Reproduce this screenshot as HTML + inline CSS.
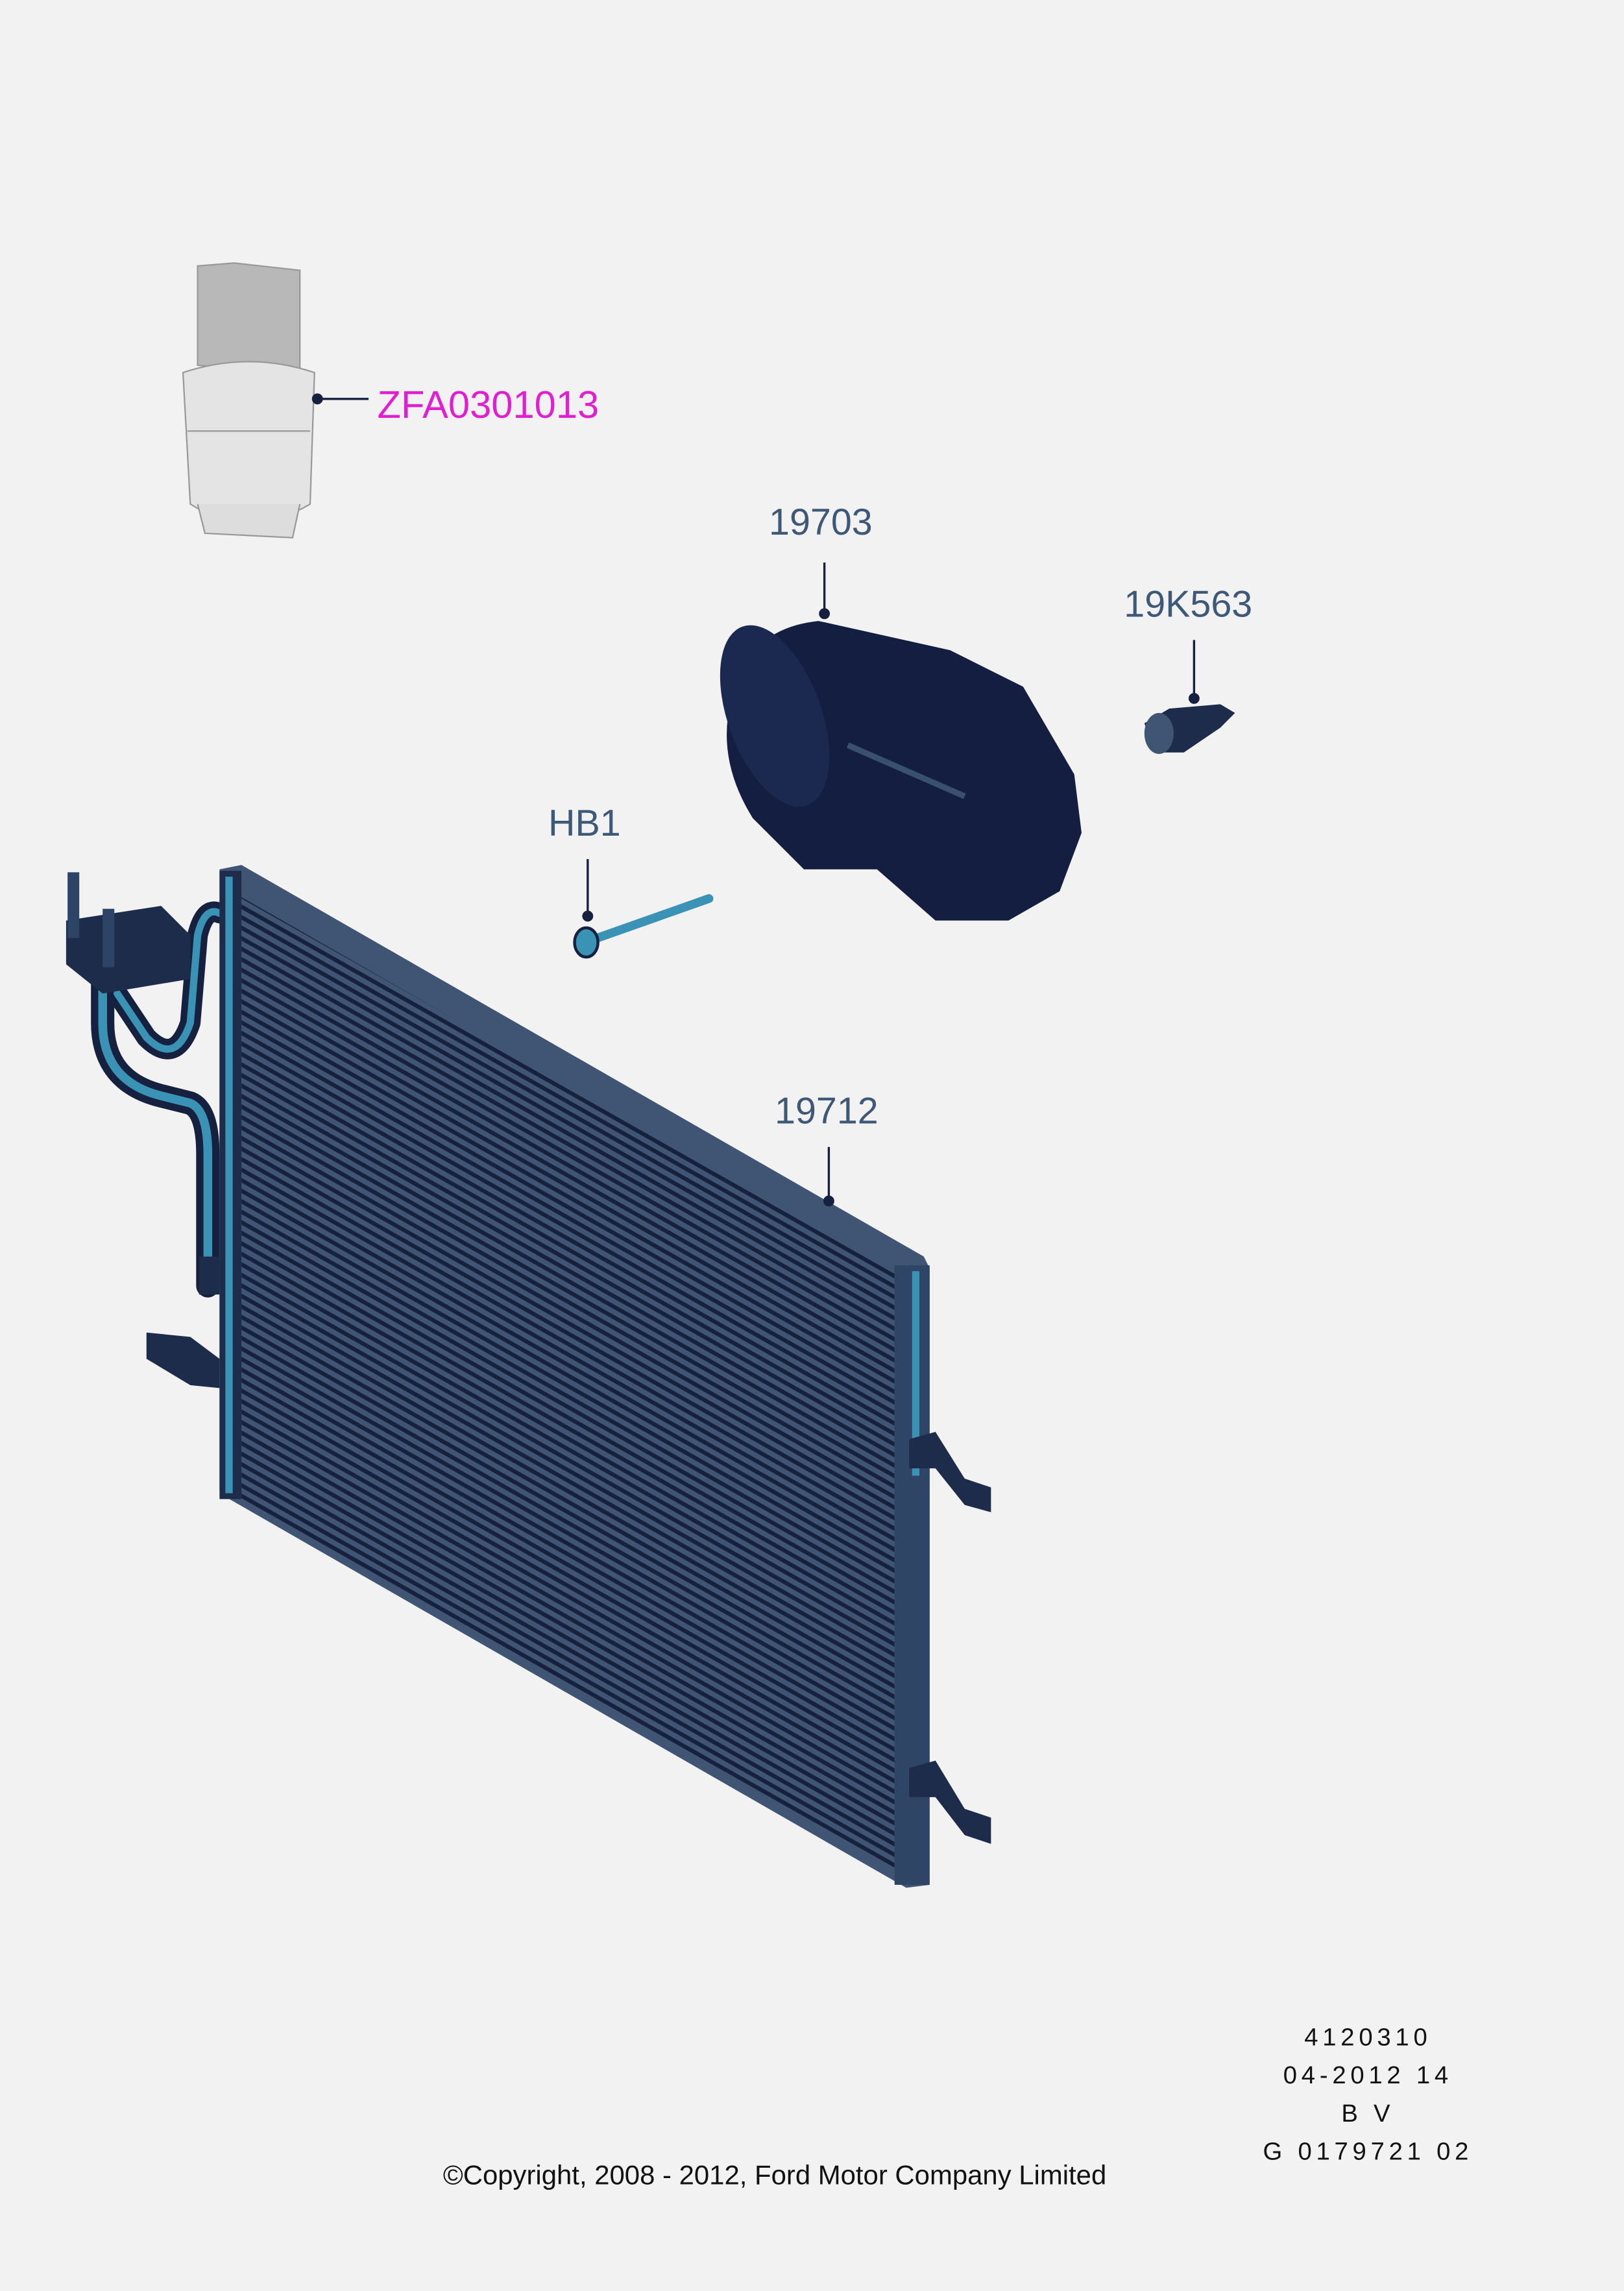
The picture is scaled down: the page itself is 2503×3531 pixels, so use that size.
<!DOCTYPE html>
<html><head><meta charset="utf-8"><style>
html,body{margin:0;padding:0;background:#f2f2f2}
svg{display:block}
</style></head><body>
<svg width="2503" height="3531" viewBox="0 0 1111 1568" xmlns="http://www.w3.org/2000/svg">
<rect width="1111" height="1568" fill="#f2f2f2"/>
<defs>
<pattern id="fins" patternUnits="userSpaceOnUse" width="40" height="7.2" patternTransform="skewY(29.5)">
<rect width="40" height="7.2" fill="#3f5573"/>
<rect y="0" width="40" height="3.2" fill="#16213f"/>
</pattern>
<clipPath id="core"><polygon points="165,612 612,868 612,1282 165,1026"/></clipPath>
</defs>
<g fill="none" stroke-linecap="round" stroke-linejoin="round">
<path d="M70,650 L70,700 Q70,740 110,750 L130,755 Q142,760 142,790 L142,880" stroke="#16213f" stroke-width="16"/>
<path d="M70,650 L70,700 Q70,740 110,750 L130,755 Q142,760 142,790 L142,880" stroke="#3a93b5" stroke-width="6"/>
<path d="M80,680 L100,710 Q120,730 130,700 L135,640 Q140,620 150,625" stroke="#16213f" stroke-width="14"/>
<path d="M80,680 L100,710 Q120,730 130,700 L135,640 Q140,620 150,625" stroke="#3a93b5" stroke-width="5"/>
</g>
<polygon points="45,630 110,620 130,640 130,670 70,680 45,660" fill="#1e2c4c"/>
<rect x="46" y="597" width="8" height="45" fill="#2d4466"/>
<rect x="70" y="622" width="8" height="40" fill="#2d4466"/>
<polygon points="100,912 130,915 150,930 150,950 130,948 100,930" fill="#1e2c4c"/>
<rect x="136" y="860" width="14" height="26" fill="#1e2c4c"/>
<polygon points="150,595 165,592 632,860 636,868 636,1290 620,1292 155,1025 150,1020" fill="#3f5573"/>
<rect x="0" y="0" width="1111" height="1568" fill="url(#fins)" clip-path="url(#core)"/>
<polygon points="165,600 630,863 612,870 165,614" fill="#3f5573"/>
<rect x="150" y="596" width="15" height="430" fill="#1e2c4c"/>
<rect x="154" y="600" width="5" height="422" fill="#3a93b5"/>
<rect x="612" y="866" width="24" height="424" fill="#2f4566"/>
<rect x="624" y="870" width="5" height="140" fill="#3a93b5"/>
<polygon points="622,985 640,980 660,1012 678,1018 678,1035 660,1030 640,1005 622,1005" fill="#1e2c4c"/>
<polygon points="622,1210 640,1205 660,1238 678,1244 678,1262 660,1256 640,1230 622,1230" fill="#1e2c4c"/>
<g stroke="#999" stroke-width="1">
<path d="M135,182 L160,180 L205,185 L205,255 L135,250 Z" fill="#b8b8b8"/>
<path d="M125,255 Q170,240 215,255 L212,345 Q170,370 130,345 Z" fill="#e4e4e4"/>
<path d="M128,295 L212,295" />
<path d="M135,345 L140,365 L200,368 L205,345" fill="#ddd"/>
</g>
<path d="M500,480 Q510,430 560,425 L650,445 L700,470 L735,530 L740,570 L725,610 L690,630 L640,630 L600,595 L550,595 L515,560 Q490,520 500,480 Z" fill="#141e40"/>
<ellipse cx="530" cy="490" rx="32" ry="65" fill="#1b2850" transform="rotate(-20 530 490)"/>
<path d="M580,510 L660,545" stroke="#3a5070" stroke-width="4"/>
<path d="M783,495 L800,485 L835,482 L845,488 L835,498 L810,515 L790,515 Z" fill="#1e2c4c"/>
<ellipse cx="793" cy="502" rx="10" ry="14" fill="#3f5573"/>
<line x1="400" y1="645" x2="485" y2="615" stroke="#3a93b5" stroke-width="6" stroke-linecap="round"/>
<ellipse cx="401" cy="645" rx="8" ry="10" fill="#3a93b5" stroke="#16213f" stroke-width="2"/>
<g stroke="#16213f" stroke-width="1.5" fill="#16213f">
<line x1="217" y1="273" x2="252" y2="273"/><circle cx="217" cy="273" r="3"/>
<line x1="564" y1="385" x2="564" y2="420"/><circle cx="564" cy="420" r="3"/>
<line x1="817" y1="438" x2="817" y2="478"/><circle cx="817" cy="478" r="3"/>
<line x1="402" y1="588" x2="402" y2="627"/><circle cx="402" cy="627" r="3"/>
<line x1="567" y1="785" x2="567" y2="822"/><circle cx="567" cy="822" r="3"/>
</g>
<g font-family="Liberation Sans, sans-serif" font-size="25.5" fill="#3e5878">
<text x="258" y="286" fill="#e020d0" font-size="26.5">ZFA0301013</text>
<text x="526" y="366">19703</text>
<text x="769" y="422">19K563</text>
<text x="375" y="572">HB1</text>
<text x="530" y="769">19712</text>
</g>
<g font-family="Liberation Sans, sans-serif" font-size="17" fill="#111" text-anchor="middle" letter-spacing="3">
<text x="936" y="1400">4120310</text>
<text x="936" y="1426">04-2012 14</text>
<text x="936" y="1452">B V</text>
<text x="936" y="1478">G 0179721 02</text>
</g>
<text x="530" y="1495" font-family="Liberation Sans, sans-serif" font-size="18.6" fill="#111" text-anchor="middle">©Copyright, 2008 - 2012, Ford Motor Company Limited</text>
</svg>
</body></html>
